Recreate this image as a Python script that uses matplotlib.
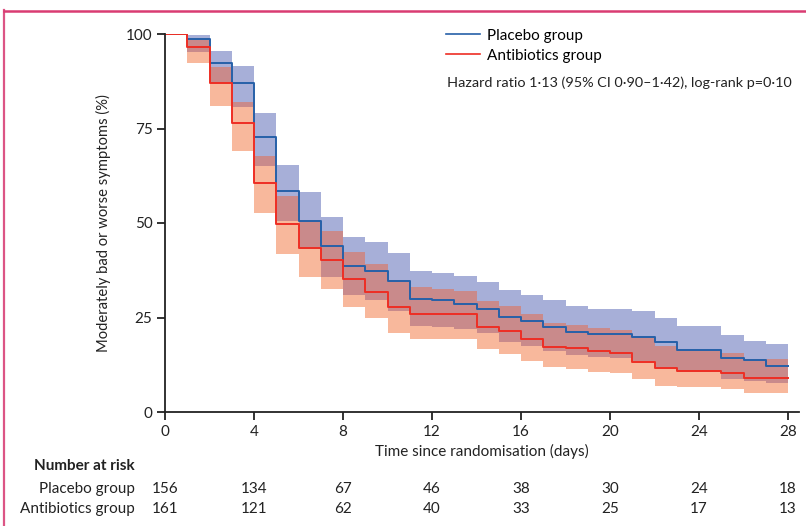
import matplotlib
matplotlib.use("Agg")
import matplotlib.pyplot as plt
import numpy as np
from matplotlib.lines import Line2D

plt.rcParams['font.family'] = ['Lato', 'DejaVu Sans']

# step values, one per day interval [d, d+1), d = 0..27
days = np.arange(0, 29)
placebo = [100, 98.7, 92.2, 87.1, 72.8, 58.4, 50.5, 43.8, 38.6, 37.3, 34.7, 30.0, 29.5, 28.7,
           27.2, 25.2, 24.1, 22.6, 21.2, 20.6, 20.6, 19.8, 18.4, 16.4, 16.4, 14.4, 13.8, 12.3]
placebo_hi = [100, 99.7, 95.6, 91.5, 79.0, 65.3, 58.1, 51.5, 46.2, 44.9, 42.1, 37.3, 36.7, 36.0,
              34.5, 32.3, 31.0, 29.5, 28.0, 27.2, 27.2, 26.7, 25.0, 22.8, 22.8, 20.4, 18.8, 18.0]
placebo_lo = [100, 95.2, 87.1, 80.6, 65.2, 50.5, 43.0, 35.8, 31.0, 29.7, 26.8, 22.8, 22.4, 22.0,
              20.8, 18.6, 17.5, 16.2, 15.1, 14.6, 14.4, 13.5, 12.0, 10.5, 10.5, 8.8, 8.2, 7.6]
antibio = [100, 96.5, 87.0, 76.4, 60.7, 49.7, 43.5, 40.2, 35.1, 31.8, 27.9, 25.8, 25.8, 25.8,
           22.6, 21.4, 19.4, 17.3, 16.8, 16.1, 15.5, 13.3, 11.6, 10.8, 10.8, 10.2, 8.9, 8.9]
antibio_hi = [100, 98.6, 91.4, 82.1, 67.6, 57.2, 50.5, 47.9, 42.4, 39.1, 34.7, 33.0, 32.5, 32.0,
              29.4, 28.0, 25.8, 23.6, 23.0, 22.3, 21.7, 19.9, 17.5, 16.5, 16.5, 15.5, 14.0, 14.0]
antibio_lo = [100, 92.2, 81.0, 69.0, 52.6, 41.8, 35.7, 32.6, 27.9, 24.8, 21.0, 19.4, 19.4, 19.4,
              16.6, 15.3, 13.6, 12.0, 11.3, 10.7, 10.2, 8.6, 7.0, 6.7, 6.7, 6.0, 4.9, 4.9]

risk_days = [0, 4, 8, 12, 16, 20, 24, 28]
risk_placebo = [156, 134, 67, 46, 38, 30, 24, 18]
risk_antibio = [161, 121, 62, 40, 33, 25, 17, 13]


def ext(v):
    return np.array(v + [v[-1]], dtype=float)


p, p_hi, p_lo = ext(placebo), ext(placebo_hi), ext(placebo_lo)
a, a_hi, a_lo = ext(antibio), ext(antibio_hi), ext(antibio_lo)

blue_line = "#2660a8"
red_line = "#ee2e24"
blue_fill = "#a7afd8"
red_fill = "#f8b89c"
both_fill = "#c98a8b"
ink = "#222222"

fig = plt.figure(figsize=(8.06, 5.26), dpi=100)
W, H = 806, 526

# pink frame at top and left
fig.add_artist(Line2D([3.5 / W, 3.5 / W], [0, 1 - 10 / H], color="#dc5585", lw=1.6))
fig.add_artist(Line2D([3.5 / W, 1], [1 - 10.5 / H, 1 - 10.5 / H], color="#d93c72", lw=1.8))

ax = fig.add_axes([165 / W, 1 - 412 / H, (28.5 * 22.25) / W, 378 / H])

ax.fill_between(days, p_lo, p_hi, step="post", color=blue_fill, lw=0)
ax.fill_between(days, a_lo, a_hi, step="post", color=red_fill, lw=0)
ov_lo = np.maximum(p_lo, a_lo)
ov_hi = np.minimum(p_hi, a_hi)
ax.fill_between(days, ov_lo, ov_hi, where=ov_hi > ov_lo, step="post", color=both_fill, lw=0)

ax.step(days, p, where="post", color=blue_line, lw=1.4)
ax.step(days, a, where="post", color=red_line, lw=1.4)

ax.set_xlim(0, 28.5)
ax.set_ylim(0, 100)
ax.set_xticks(risk_days)
ax.set_yticks([0, 25, 50, 75, 100])
for s in ["top", "right"]:
    ax.spines[s].set_visible(False)
for s in ["left", "bottom"]:
    ax.spines[s].set_color(ink)
    ax.spines[s].set_linewidth(1.3)
ax.spines["left"].set_bounds(0, 100)
ax.tick_params(direction="out", length=6, width=1.3, color=ink, labelsize=11, labelcolor=ink, pad=3)
ax.set_xlabel("Time since randomisation (days)", fontsize=11, color=ink, labelpad=4)
ax.set_ylabel("Moderately bad or worse symptoms (%)", fontsize=10.6, color=ink, labelpad=11)

handles = [Line2D([], [], color=blue_line, lw=1.2), Line2D([], [], color=red_line, lw=1.2)]
ax.legend(handles, ["Placebo group", "Antibiotics group"], loc="upper left",
          bbox_to_anchor=((440 - 165) / (28.5 * 22.25), 1.03), frameon=False, fontsize=11,
          handlelength=2.2, handletextpad=0.5, labelspacing=0.38, borderaxespad=0)
fig.text(447 / W, 1 - 83 / H, "Hazard ratio 1·13 (95% CI 0·90–1·42), log-rank p=0·10",
         fontsize=10.4, color=ink, va="center", ha="left")

# number at risk table
fig.text(135 / W, 1 - 466 / H, "Number at risk", fontsize=11, fontweight="bold", color=ink,
         ha="right", va="center")
fig.text(135 / W, 1 - 489 / H, "Placebo group", fontsize=11, color=ink, ha="right", va="center")
fig.text(135 / W, 1 - 509 / H, "Antibiotics group", fontsize=11, color=ink, ha="right", va="center")
for d, n1, n2 in zip(risk_days, risk_placebo, risk_antibio):
    xf = (165 + d * 22.25) / W
    fig.text(xf, 1 - 489 / H, str(n1), fontsize=11, color=ink, ha="center", va="center")
    fig.text(xf, 1 - 509 / H, str(n2), fontsize=11, color=ink, ha="center", va="center")

fig.savefig("out.png", dpi=100)
